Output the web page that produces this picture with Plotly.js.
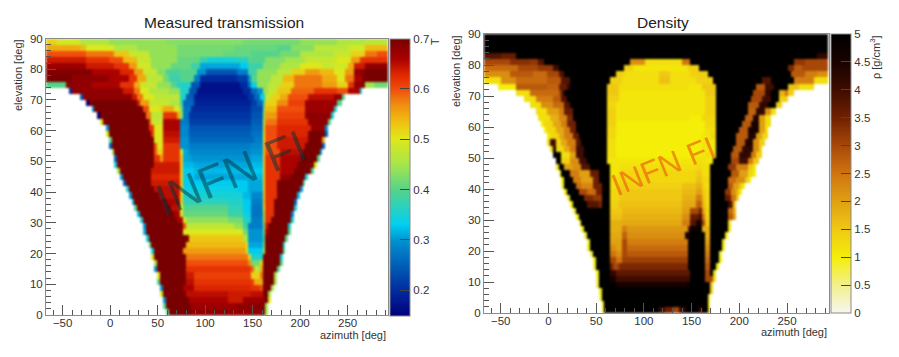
<!DOCTYPE html>
<html><head><meta charset="utf-8">
<script src="https://cdn.plot.ly/plotly-3.0.1.min.js"></script>
<style>html,body{margin:0;padding:0;background:#fff}#c{width:899px;height:357px}</style></head>
<body><div id="c"></div>
<script>
// Rows. Key = lower elevation edge of the row (deg).
// Each row: azimuth, value, azimuth, value, ..., last azimuth. A value holds until the next azimuth.
// Transmission values are in hundredths of T.
const transmissionRows = {
0:[58,40,61,70,85,68,162,70,165,45,168],
2:[57,40,60,70,85,67,130,68,155,69,162,70,165,45,168],
4:[55,30,58,70,84,66,125,64,140,67,160,68,165,70,167,50,170],
6:[54,50,57,70,79,65,125,64,150,65,162,70,168,45,171],
8:[52,30,55,70,78,66,90,63,150,62,157,60,162,70,170,45,173],
10:[50,40,53,70,79,65,90,62,148,61,152,55,160,62,162,70,172,45,175],
12:[49,50,52,70,79,64,90,61,148,60,150,52,159,58,161,70,173,45,176],
14:[48,30,51,70,79,62,148,59,151,47,158,55,160,70,175,40,178],
16:[47,45,50,70,79,60,147,57,150,42,159,52,161,70,178,40,181],
18:[45,50,48,70,79,58,146,52,149,36,160,48,162,70,180,35,183],
20:[43,35,46,70,78,56,143,50,147,33,161,45,163,70,181,40,184],
22:[41,40,44,70,80,54,142,50,146,31,161,42,163,70,183,35,186],
24:[39,35,42,70,82,53,140,46,145,30,161,40,163,70,185,40,188],
26:[36,32,39,70,78,50,140,42,145,30,161,42,163,66,166,70,187,40,190],
28:[34,30,37,70,76,60,79,47,130,44,140,38,147,28,161,42,163,64,168,70,188,35,191],
30:[32,35,35,70,72,66,76,50,79,44,125,42,140,36,150,28,161,45,163,62,170,70,190,35,193],
32:[29,32,32,70,68,66,75,50,78,41,125,38,140,34,150,27,161,45,163,62,172,70,192,28,195],
34:[27,40,30,70,64,65,75,50,77,40,125,37,140,33,150,27,161,50,163,62,173,70,193,35,196],
36:[24,32,27,70,58,66,74,52,77,37,125,36,140,33,150,28,161,52,163,62,174,70,195,25,198],
38:[21,30,24,70,52,65,74,52,76,35,125,35,140,32,150,29,161,52,163,62,175,70,198,32,201],
40:[18,35,21,70,48,65,74,53,76,34,135,33,145,31,161,52,163,62,176,70,201,30,204],
42:[15,25,18,70,45,64,74,53,76,33,135,33,145,31,161,52,163,62,177,70,204,40,207],
44:[12,30,15,70,44,63,74,53,76,33,90,31,150,32,161,52,163,62,180,68,190,70,207,35,210],
46:[9,45,12,70,44,64,74,53,76,33,90,32,150,33,161,52,163,62,180,66,195,70,213,40,216],
48:[6,35,9,70,46,64,74,53,76,32,90,31,150,32,161,52,163,62,178,66,197,70,216,50,219],
50:[4,25,7,70,46,62,52,56,56,62,74,53,76,31,86,30,150,31,161,52,163,62,180,66,200,70,219,40,222],
52:[2,45,5,70,47,60,50,52,56,62,74,50,76,31,84,29,150,30,161,52,163,60,178,65,203,70,222,30,225],
54:[0,25,3,70,47,60,49,50,56,62,73,50,75,30,84,28,150,29,161,52,163,60,176,64,205,70,223,25,226],
56:[-1,40,2,70,46,60,48,50,56,64,73,50,75,30,84,26,152,28,161,50,163,60,175,64,208,70,225,55,228],
58:[-3,50,0,70,44,62,47,50,56,65,73,50,75,29,84,25,150,27,160,50,163,60,175,63,210,70,227,25,230],
60:[-5,30,-2,70,42,62,46,50,56,66,73,50,75,29,84,24,150,26,160,48,163,60,175,63,212,68,228,30,231],
62:[-10,50,-7,70,40,60,44,48,56,66,73,50,75,28,84,22,150,25,161,47,163,58,175,62,210,68,230,40,233],
64:[-13,15,-10,70,38,58,43,47,56,62,70,55,73,44,76,27,84,21,150,24,161,44,163,56,175,61,207,68,234,35,237],
66:[-19,30,-16,70,36,60,40,50,52,52,56,55,68,50,73,42,77,27,86,20,148,23,160,42,163,54,175,60,205,67,237,35,240],
68:[-24,15,-21,70,28,64,32,56,40,48,62,46,74,38,78,26,88,19,148,22,156,26,160,38,164,52,175,57,188,61,205,67,240,40,244],
70:[-31,25,-28,68,22,64,30,58,36,50,48,47,75,36,80,25,90,18,145,21,153,26,158,34,163,48,170,52,178,55,188,60,210,65,235,68,246,40,249],
72:[-44,20,-41,68,15,64,25,58,32,50,40,46,62,44,75,36,83,24,92,17,140,20,150,26,155,30,160,44,168,48,175,53,190,59,215,62,240,60,250,66,264,35,267],
74:[-67.5,40,-45,68,-20,66,10,62,25,55,32,48,50,44,65,40,72,36,86,24,96,17,138,20,146,27,150,34,156,44,166,47,178,52,195,58,225,56,238,52,250,62,258,68,268,45,278,42,292.5],
76:[-67.5,70,-40,68,0,66,20,62,30,55,38,47,55,42,62,38,75,40,88,28,96,20,135,22,145,30,150,40,156,44,170,47,182,54,195,58,215,58,225,55,240,50,248,58,256,66,266,70,292.5],
78:[-67.5,69,-20,66,10,63,25,56,35,48,50,43,60,39,75,40,92,30,100,24,128,24,135,28,145,38,156,44,175,47,190,52,205,56,222,54,235,50,247,56,258,68,268,70,292.5],
80:[-67.5,67,-25,64,5,62,20,56,30,49,45,44,65,41,85,38,96,31,137,33,145,38,160,43,180,46,200,50,225,48,235,49,250,55,258,64,270,68,292.5],
82:[-67.5,64,-25,62,0,60,15,54,28,48,45,44,70,41,95,37,105,35,130,36,145,40,165,43,185,45,205,48,240,50,255,56,262,62,292.5],
84:[-67.5,60,-25,58,5,53,20,48,40,44,70,42,120,41,150,40,180,42,200,46,235,48,255,52,268,58,280,60,292.5],
86:[-67.5,55,-30,54,-24,50,6,46,30,44,70,42,130,41,175,40,190,43,215,47,250,49,270,54,292.5],
88:[-67.5,52,-55,49,-30,46,0,44,60,43,140,42,200,44,240,46,270,47,292.5]
};
// Density values are in tenths of g/cm3.
const densityRows = {
0:[57,10,60,50,117,40,122,35,130,30,138,40,143,50,157,40,160,50,166,15,169],
2:[56,12,59,50,167,10,170],
4:[54,8,57,50,168,12,171],
6:[53,10,56,50,170,15,173],
8:[51,8,54,50,72,46,145,50,171,15,174],
10:[50,8,53,50,66,45,70,40,148,50,165,30,172,50,173,12,176],
12:[49,10,52,50,65,42,72,37,148,50,164,30,171,50,174,12,177],
14:[48,8,51,50,64,35,68,30,74,34,147,50,164,28,171,50,176,10,179],
16:[46,10,49,50,64,30,70,25,76,31,147,50,164,26,171,50,178,10,181],
18:[44,8,47,50,64,25,70,22,76,30,84,28,146,50,164,24,171,50,180,8,183],
20:[42,10,45,50,65,22,70,20,77,30,84,26,146,50,164,22,171,50,182,10,185],
22:[40,8,43,50,65,20,77,30,84,24,145,48,149,50,164,20,171,50,183,12,186],
24:[37,8,40,50,65,19,77,27,84,22,143,45,149,50,164,18,171,50,185,10,188],
26:[35,10,38,50,65,18,77,24,84,21,145,38,150,48,158,50,162,18,171,50,187,12,190],
28:[32,8,35,50,65,18,77,19,140,24,148,38,155,45,160,30,164,15,171,50,189,12,192],
30:[29,10,32,50,65,16,76,18,140,22,150,36,157,40,161,25,164,14,171,50,187,28,193,20,196],
32:[26,8,29,50,65,15,76,17,140,20,150,30,158,35,162,20,164,14,171,50,187,26,193,18,196],
34:[24,10,27,50,40,38,52,34,55,50,65,14,74,16,140,19,155,27,161,17,164,13,171,50,187,40,192,35,194,15,197],
36:[21,8,24,50,38,34,48,32,55,50,66,13,74,15,140,18,155,24,162,16,165,13,171,50,185,36,192,25,198,15,201],
38:[18,10,21,50,33,30,42,26,50,35,56,50,66,13,74,15,140,17,155,20,162,15,165,13,171,50,186,32,192,22,198,17,201,10,204],
40:[15,8,18,50,28,26,36,23,48,35,56,50,66,12,74,14,140,16,155,18,162,14,165,12,171,50,187,28,194,20,200,15,204,10,207],
42:[13,10,16,50,26,24,34,20,46,35,54,50,65,12,74,13,155,16,162,13,170,50,188,26,198,22,205,15,210,10,213],
44:[11,8,14,50,22,24,32,20,44,36,53,50,64,11,74,13,155,15,162,12,170,50,190,28,200,20,210,13,214,10,217],
46:[9,12,12,50,17,20,27,22,35,38,43,50,64,11,74,12,155,13,162,12,171,50,188,32,196,24,208,15,215,10,218],
48:[7,50,15,14,24,22,32,40,41,50,63,11,74,11,155,12,163,11,172,50,190,30,200,40,208,24,214,15,220],
50:[5,50,14,12,22,20,30,40,39,50,62,12,72,10,155,11,163,12,175,50,191,28,201,42,211,24,218,14,224],
52:[2,12,5,45,9,13,16,19,24,25,30,40,37,50,62,12,72,10,160,11,176,50,194,28,204,42,214,22,220,14,225],
54:[0,12,3,40,7,13,13,19,21,24,28,38,35,50,62,12,72,10,160,11,177,50,196,28,206,44,216,22,221,14,227],
56:[-1,10,3,13,11,19,18,24,25,36,32,50,62,13,72,10,160,11,170,13,177,50,198,28,208,44,218,20,224,13,229],
58:[-3,10,0,13,8,19,16,24,22,35,30,50,62,13,72,10,155,10,165,12,177,50,201,28,210,45,220,20,226,12,231],
60:[-7,10,-4,13,6,19,14,24,20,35,28,50,62,14,72,10,150,10,165,13,177,50,204,28,213,45,220,20,226,12,232],
62:[-10,12,2,18,12,23,20,34,27,50,62,14,72,11,150,10,162,13,177,50,206,27,214,44,222,20,228,12,234],
64:[-14,12,-1,20,10,24,18,36,25,50,62,14,72,11,150,11,165,14,177,50,208,27,217,42,226,22,232,12,238],
66:[-19,12,-8,22,5,26,16,38,23,50,62,13,72,11,150,11,165,14,177,50,210,28,222,42,230,50,238,14,246],
68:[-24,12,-14,24,5,28,14,38,20,50,62,14,73,11,150,11,165,14,177,50,212,30,224,40,232,50,241,14,252],
70:[-33,12,-19,26,10,30,13,38,18,50,62,15,73,11,150,11,165,15,177,50,214,30,226,42,234,50,242,18,248,25,252,14,257],
72:[-52,10,-33,28,0,27,12,36,20,42,24,50,63,15,75,12,145,11,160,15,176,50,218,28,228,40,236,50,250,16,262,12,278],
74:[-67.5,12,-50,22,-35,26,0,28,15,38,22,50,65,14,78,12,115,16,128,12,155,14,173,50,225,38,232,50,258,24,278,12,294],
76:[-67.5,22,-40,28,-15,26,0,30,12,38,18,50,70,14,80,12,115,15,128,12,150,14,168,50,255,28,270,24,280,22,294],
78:[-67.5,26,-30,30,-10,32,5,40,10,50,79,14,88,11,145,14,159,50,250,34,256,28,265,30,294],
80:[-67.5,30,-40,33,-20,32,-10,38,-5,50,87,22,100,12,140,25,150,50,256,32,268,30,294],
82:[-67.5,38,-50,36,-35,50,280,42,294],
84:[-67.5,50,294],
86:[-67.5,50,294],
88:[-67.5,50,294]
};
const elevationCenters = Object.keys(transmissionRows).map(k => +k + 1);
const azimuthCenters = Array.from({length: 120}, (_, i) => -66 + 3 * i);

function expand(row, scale) {
  return azimuthCenters.map(c => {
    if (c < row[0] || c >= row[row.length - 1]) return null;
    let v = null;
    for (let i = 0; i + 1 < row.length; i += 2) { if (row[i] <= c) v = row[i + 1]; }
    return v / scale;
  });
}
const rowsOf = (t, s) => Object.keys(t).map(Number).sort((a, b) => a - b).map(k => expand(t[k], s));

const jet = [[0,'#00007c'],[0.09,'#002a9e'],[0.27,'#0090d0'],[0.33,'#00cff2'],[0.45,'#52d28e'],[0.55,'#a8e648'],[0.64,'#dfe81a'],[0.7,'#f0c010'],[0.76,'#f09010'],[0.82,'#f04c0c'],[0.87,'#e02800'],[0.93,'#a80000'],[1,'#780000']];
const hot = [[0,'#f6f6f0'],[0.1,'#f2f08c'],[0.2,'#f4ee08'],[0.3,'#f0c814'],[0.4,'#e0a012'],[0.5,'#d07410'],[0.6,'#a84808'],[0.7,'#702000'],[0.8,'#3f0c00'],[0.9,'#180200'],[1,'#000000']];

const F = 'Liberation Sans, Arial, sans-serif', W = 899, H = 357;
const ink = '#333333', frame = '#8a8a8a';
const xa = (dom, rng) => ({domain:[dom[0]/W, dom[1]/W], range:rng, dtick:50, tick0:0, ticks:'inside', ticklen:10, tickwidth:1, tickcolor:'#555', ticklabelstandoff:-3,
  minor:{dtick:10, ticks:'inside', ticklen:5, tickwidth:1, tickcolor:'#555', showgrid:false}, showline:true, mirror:true, linecolor:frame, linewidth:1,
  showgrid:false, zeroline:false, tickfont:{size:11.5, family:F, color:ink}});
const ya = (dom) => ({domain:[1-dom[1]/H, 1-dom[0]/H], range:[0,90], dtick:10, tick0:0, ticks:'inside', ticklen:10, tickwidth:1, tickcolor:'#555',
  minor:{dtick:2, ticks:'inside', ticklen:5, tickwidth:1, tickcolor:'#555', showgrid:false}, showline:true, mirror:true, linecolor:frame, linewidth:1,
  showgrid:false, zeroline:false, tickfont:{size:11.5, family:F, color:ink}});
const cb = (x, top, bot, dt, t0) => ({x:x/W, xanchor:'left', xpad:0, ypad:0, y:1-top/H, yanchor:'top', lenmode:'pixels', len:bot-top, thicknessmode:'pixels', thickness:20,
  outlinewidth:1, outlinecolor:frame, ticks:'inside', ticklen:10, tickcolor:'#444', tickwidth:1, dtick:dt, tick0:t0, tickfont:{size:11.5, family:F, color:ink}});

const data = [
  {type:'heatmap', x:azimuthCenters, y:elevationCenters, z:rowsOf(transmissionRows,100), xaxis:'x', yaxis:'y', zmin:0.15, zmax:0.7, colorscale:jet, hoverongaps:false, colorbar:cb(390,38.5,315,0.1,0.2)},
  {type:'heatmap', x:azimuthCenters, y:elevationCenters, z:rowsOf(densityRows,10), xaxis:'x2', yaxis:'y2', zmin:0, zmax:5, colorscale:hot, hoverongaps:false, colorbar:cb(831,34,313,0.5,0)}
];
const ann = (text, x, y, o) => Object.assign({text, x:x/W, y:1-y/H, xref:'paper', yref:'paper', xanchor:'center', yanchor:'middle', showarrow:false, font:{size:11, family:F, color:ink}}, o);
const layout = {
  width:W, height:H, margin:{l:0,r:0,t:0,b:0}, paper_bgcolor:'#fff', plot_bgcolor:'#fff', showlegend:false,
  xaxis:Object.assign(xa([46,388],[-67.5,292.5]),{anchor:'y'}), yaxis:Object.assign(ya([38.5,315]),{anchor:'x'}),
  xaxis2:Object.assign(xa([484,829],[-67.5,294]),{anchor:'y2'}), yaxis2:Object.assign(ya([34,313]),{anchor:'x2'}),
  annotations:[
    ann('Measured transmission',224,22,{font:{size:15.5,family:F,color:'#222'}}),
    ann('Density',663,22,{font:{size:15.5,family:F,color:'#222'}}),
    ann('elevation [deg]',18,75,{textangle:-90}),
    ann('elevation [deg]',456,71,{textangle:-90}),
    ann('azimuth [deg]',388,335,{xanchor:'right'}),
    ann('azimuth [deg]',829,332,{xanchor:'right'}),
    ann('T',435,42,{textangle:-90}),
    ann('ρ [g/cm<sup>3</sup>]',875,57,{textangle:-90}),
    ann('INFN FI',230,173,{textangle:-22,font:{size:45,family:F,color:'rgba(0,50,60,0.5)'}}),
    ann('INFN FI',663,166,{textangle:-22,font:{size:31,family:F,color:'rgba(235,90,10,0.65)'}})
  ]
};
Plotly.newPlot('c', data, layout, {displayModeBar:false, staticPlot:true}).then(gd => {
  gd.querySelectorAll('.cartesianlayer image, .heatmaplayer image').forEach(im => { im.style.filter = 'blur(1px)'; });
});
</script></body></html>
